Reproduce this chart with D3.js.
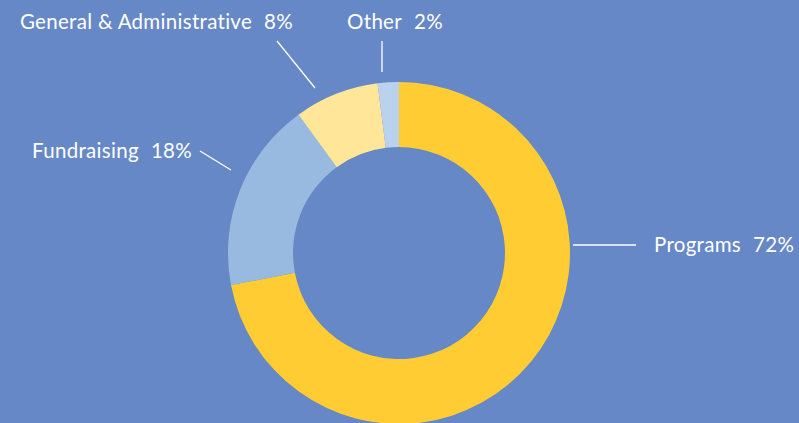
<!DOCTYPE html>
<html><head><meta charset="utf-8">
<script src="https://cdn.jsdelivr.net/npm/d3@7"></script>
<style>
html,body{margin:0;padding:0;background:#6688C6;}
svg{display:block;}
text{font-family:Lato,"Open Sans",sans-serif;fill:#fff;}
</style></head>
<body>
<svg id="chart" width="799" height="423"></svg>
<script>
const categories = ["Programs", "Fundraising", "General & Administrative", "Other"];
const values = [72, 18, 8, 2];
const colors = ["#FFCC33", "#99BAE0", "#FFE699", "#BBD2EE"];

const W = 799, H = 423;
const svg = d3.select("#chart");
svg.append("rect").attr("width", W).attr("height", H).attr("fill", "#6688C6");

const cx = 399, cy = 253, R = 171, r = 106;
const g = svg.append("g").attr("transform", `translate(${cx},${cy})`);
const pie = d3.pie().sort(null).value(d => d)(values);
const arc = d3.arc().innerRadius(r).outerRadius(R);
g.selectAll("path").data(pie).enter().append("path")
  .attr("d", arc).attr("fill", (d, i) => colors[i]);

// label layout (leader line endpoints, text anchor positions)
const layout = [
  {line: [[573, 245], [636, 245]], x: 654, y: 252, anchor: "start"},
  {line: [[200, 151], [231, 170]], x: 192, y: 158, anchor: "end"},
  {line: [[277, 41], [315, 88]], x: 293, y: 29, anchor: "end"},
  {line: [[382, 41], [382, 72]], x: 395, y: 29, anchor: "middle"}
];
const fs = 20.5;
categories.forEach((c, i) => {
  const L = layout[i];
  svg.append("line")
    .attr("x1", L.line[0][0]).attr("y1", L.line[0][1])
    .attr("x2", L.line[1][0]).attr("y2", L.line[1][1])
    .attr("stroke", "#fff").attr("stroke-width", 1.3);
  const t = svg.append("text")
    .attr("x", L.x).attr("y", L.y)
    .attr("text-anchor", L.anchor)
    .attr("font-size", fs)
    .attr("letter-spacing", 0.3);
  t.append("tspan").text(c);
  t.append("tspan").attr("dx", 12).text(values[i] + "%");
});
</script>
</body></html>
